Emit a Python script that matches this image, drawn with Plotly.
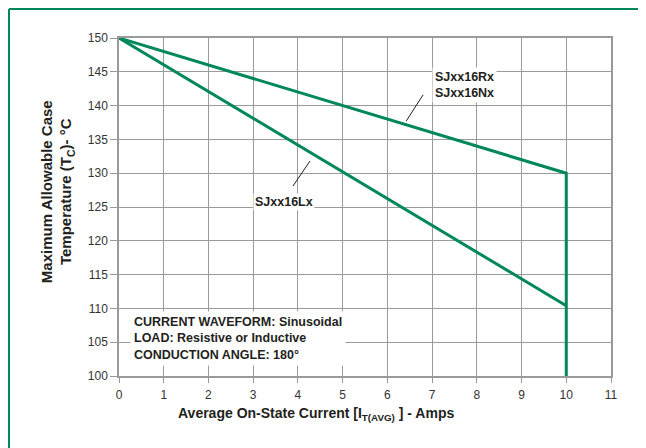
import plotly.graph_objects as go

# Data
rx_current = [0, 10, 10]
rx_temp = [150, 130, 100]
lx_current = [0, 10]
lx_temp = [150, 110.4]

x_ticks = list(range(0, 12))
y_ticks = list(range(100, 151, 5))

GREEN = "#00875A"
GRID = "#9a9a9a"
TXT = "#231f20"
FONT = "Liberation Sans, Arial, sans-serif"

fig = go.Figure()
fig.add_trace(go.Scatter(x=rx_current, y=rx_temp, mode="lines",
                         line=dict(color=GREEN, width=3), showlegend=False, hoverinfo="skip"))
fig.add_trace(go.Scatter(x=lx_current, y=lx_temp, mode="lines",
                         line=dict(color=GREEN, width=3), showlegend=False, hoverinfo="skip"))

fig.update_layout(
    width=638, height=440,
    margin=dict(l=111, r=35, t=30, b=72),
    paper_bgcolor="white", plot_bgcolor="white",
    font=dict(family=FONT, color=TXT, size=11),
    xaxis=dict(range=[0, 11], tickvals=x_ticks, showgrid=True, gridcolor=GRID, gridwidth=1,
               showline=True, linecolor=GRID, linewidth=1.5, mirror=True,
               ticks="outside", ticklen=5, tickcolor=GRID, zeroline=False,
               ticklabelstandoff=2,
               tickfont=dict(size=12, color="#333333")),
    yaxis=dict(range=[100, 150], tickvals=y_ticks, showgrid=True, gridcolor=GRID, gridwidth=1,
               showline=True, linecolor=GRID, linewidth=1.5, mirror=True,
               ticks="outside", ticklen=7, tickcolor=GRID, zeroline=False,
               tickfont=dict(size=12, color="#333333")),
)

# Axis titles
fig.add_annotation(xref="paper", yref="paper", x=0.40, y=-0.112,
                   text="<b>Average On-State Current [I<sub>T(AVG)</sub> ] - Amps</b>",
                   showarrow=False, font=dict(size=14, color=TXT), xanchor="center", yanchor="middle")
fig.add_annotation(xref="paper", yref="paper", x=-0.126, y=0.544, textangle=-90,
                   text="<b>Maximum Allowable Case<br>Temperature (T<sub>C</sub>)- °C</b>",
                   showarrow=False, font=dict(size=15, color=TXT), xanchor="center", yanchor="middle")

# Leader lines
fig.add_shape(type="line", xref="x", yref="y", x0=6.42, y0=137.7, x1=6.80, y1=141.6,
              line=dict(color=TXT, width=1))
fig.add_shape(type="line", xref="x", yref="y", x0=3.89, y0=128.1, x1=4.27, y1=131.8,
              line=dict(color=TXT, width=1))

# Series labels
fig.add_annotation(xref="x", yref="y", x=6.99, y=143.1,
                   text="<b>SJxx16Rx<br>SJxx16Nx</b>", align="left",
                   showarrow=False, font=dict(size=12.5, color=TXT), xanchor="left", yanchor="middle",
                   bgcolor="white", borderpad=2)
fig.add_annotation(xref="x", yref="y", x=3.0, y=125.7,
                   text="<b>SJxx16Lx</b>", align="left",
                   showarrow=False, font=dict(size=12.5, color=TXT), xanchor="left", yanchor="middle",
                   bgcolor="white", borderpad=1)

# Conditions box
fig.add_annotation(xref="x", yref="y", x=0.25, y=105.5,
                   text="<b>CURRENT WAVEFORM: Sinusoidal<br>LOAD: Resistive or Inductive<br>CONDUCTION ANGLE: 180°</b>",
                   align="left", showarrow=False, font=dict(size=12.5, color=TXT),
                   xanchor="left", yanchor="middle", bgcolor="white", borderpad=3)

# Green frame (top and left)
fig.add_shape(type="line", xref="paper", yref="paper", x0=-0.2236, y0=1.0858, x1=1.1, y1=1.0858,
              line=dict(color=GREEN, width=2))
fig.add_shape(type="line", xref="paper", yref="paper", x0=-0.2236, y0=1.0858, x1=-0.2236, y1=-0.25,
              line=dict(color=GREEN, width=2))

fig.write_html("out.html")
